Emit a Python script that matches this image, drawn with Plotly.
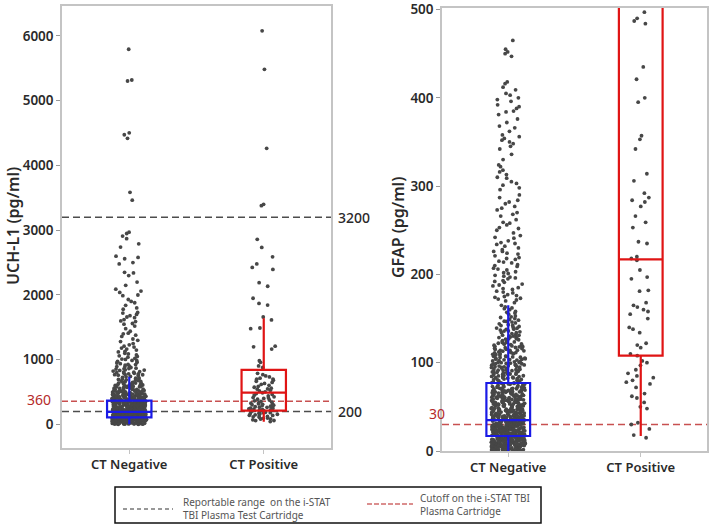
import plotly.graph_objects as go

categories = ["CT Negative", "CT Positive"]

# ---------------- UCH-L1 (pg/ml) ----------------
uchl1_neg_low = [
    12, 35, 58, 21, 77, 140, 96, 188, 250, 63, 171, 302, 44, 118, 215, 9, 88, 160, 276, 340,
    27, 103, 199, 264, 355, 71, 146, 233, 318, 52, 127, 181, 290, 16, 84, 207, 331, 39, 152, 244,
    68, 112, 226, 297, 361, 5, 93, 175, 258, 324, 47, 134, 193, 281, 31, 107, 166, 239, 349, 80,
    14, 121, 210, 270, 336, 56, 149, 221, 309, 25, 99, 184, 255, 367, 61, 137, 203, 287, 42, 114,
    74, 158, 229, 312, 19, 90, 196, 266, 345, 37, 128, 178, 248, 328, 66, 143, 218, 293, 8, 101,
    50, 163, 236, 306, 358, 83, 125, 191, 273, 30, 110, 155, 241, 315, 60, 132, 212, 284, 352, 23,
    95, 169, 223, 299, 45, 116, 186, 261, 334, 72, 139, 205, 279, 11, 87, 151, 231, 321, 54, 122,
    33, 176, 246, 310, 365, 79, 130, 198, 268, 18, 105, 162, 227, 295, 64, 144, 209, 343, 40, 119,
    85, 153, 217, 285, 338, 28, 97, 180, 252, 326, 57, 136, 194, 263, 6, 76, 167, 238, 304, 48,
    109, 173, 243, 316, 69, 126, 201, 277, 356, 24, 92, 147, 220, 289, 36, 115, 189, 259, 333, 81,
    3, 17, 29, 43, 59, 73, 86, 98, 113, 129, 141, 157, 172, 187, 202, 219, 234, 251, 269, 286,
    301, 318, 337, 354, 10, 22, 38, 53, 67, 82, 94, 108, 123, 138, 154, 168, 183, 197, 213, 228,
    242, 257, 272, 288, 303, 322, 341, 359, 7, 20, 32, 46, 62, 75, 89, 102, 117, 131, 145, 159,
    174, 190, 206, 222, 237, 253, 267, 283, 298, 314, 330, 347, 363, 15, 26, 41, 55, 70, 84, 100,
    111, 124, 135, 150, 164, 177, 192, 208, 224, 240, 256, 271, 292, 308, 325, 344, 2, 34, 65, 91,
    120, 148, 179, 211, 247, 280, 313, 350, 13, 51, 78, 106, 133, 161, 195, 230, 262, 296, 329, 362,
    372, 455, 398, 520, 381, 610, 430, 476, 389, 540, 412, 690, 445, 377, 505, 395, 580, 425, 468, 384,
    640, 403, 492, 375, 555, 438, 418, 720, 386, 462, 512, 392, 600, 449, 408, 530, 380, 482, 660, 421,
    399, 572, 458, 374, 498, 435, 620, 410, 545, 390, 470, 705, 428, 515, 383, 590, 452, 406, 488, 378,
    535, 415, 650, 440, 396, 562, 474, 387, 508, 676, 432, 401, 548, 464, 742, 419, 585, 394, 525, 446,
    630, 480, 413, 568, 405, 500, 736, 443, 592, 385, 460, 615, 427, 552, 391,
    373, 388, 402, 417, 433, 451, 467, 485, 503, 522, 543, 565, 588, 612, 638, 666, 695, 726, 379, 397,
    411, 426, 441, 457, 473, 490, 510, 532, 557, 583, 608, 635, 664, 699, 382, 393, 407, 423, 437, 454,
    471, 494, 518, 547, 575, 604, 645, 682, 714, 376, 400, 429, 466, 511,
]
uchl1_neg_mid = [
    762, 845, 1010, 790, 930, 1180, 808, 880, 1060, 775, 960, 1250, 825, 905, 1120, 770, 990, 1320, 856, 1040,
    795, 870, 1150, 940, 782, 1090, 815, 1400, 895, 1020, 758, 975, 1210, 835, 1075, 918, 1480, 800, 1130, 865,
    950, 1280, 780, 1005, 890, 1360, 840, 1050, 768, 1165, 925, 1440, 810, 985, 1230, 860, 1100, 1520, 1560, 1600,
    1620, 1650, 1680, 1700, 1720, 1730, 1780, 1800, 1840, 1880, 1900, 1930, 1990, 1550, 1410, 1300, 1195, 1380, 1660, 1590,
]
uchl1_neg_high = [
    2000, 2040, 2060, 2090, 2150, 2200, 2300, 2340, 2350, 2480, 2500, 2560, 2580, 2600,
    2740, 2790, 2870, 2910, 2950, 2970, 3465, 3585, 4420, 4475, 4505, 5305, 5320, 5795,
]
uchl1_pos_low = [
    45, 60, 72, 85, 95, 110, 118, 130, 142, 150, 158, 165, 172, 180, 188, 195, 62, 88, 125, 168,
    205, 215, 222, 230, 238, 245, 252, 260, 268, 275, 282, 290, 298, 305, 312, 320, 330, 338, 345, 355,
    365, 378, 390, 402, 415, 428, 440, 452, 465, 478, 490, 505, 518, 530, 545, 560, 575, 590, 605, 620,
    635, 650, 668, 685, 700, 715, 735, 750, 770, 790, 225, 265, 310, 410, 550, 702, 182, 140, 100, 240,
    880, 905, 960, 985,
]
uchl1_pos_high = [
    1165, 1200, 1210, 1480, 1490, 1615, 1660, 1845, 1870, 1950, 2135, 2190, 2395, 2425, 2480,
    2590, 2735, 2860, 3380, 3400, 4265, 5485, 6080,
]
uchl1_q1 = [111, 213]
uchl1_median = [196, 491]
uchl1_q3 = [368, 842]
uchl1_lowerfence = [5, 43]
uchl1_upperfence = [736, 1640]
uchl1_reportable = [200, 3200]
uchl1_cutoff = 360
uchl1_ticks = [0, 1000, 2000, 3000, 4000, 5000, 6000]

# ---------------- GFAP (pg/ml) ----------------
gfap_neg_low = [
    2, 14, 27, 41, 55, 68, 8, 20, 33, 47, 61, 75, 4, 17, 30, 44, 58, 71, 11, 24,
    37, 50, 64, 78, 6, 19, 32, 45, 59, 72, 1, 13, 26, 39, 53, 66, 9, 22, 35, 49,
    62, 76, 3, 16, 29, 42, 56, 69, 10, 23, 36, 48, 63, 77, 5, 18, 31, 46, 60, 73,
    12, 25, 38, 52, 65, 79, 7, 21, 34, 43, 57, 70, 0.5, 15, 28, 40, 54, 67, 9.5, 22.5,
    36.5, 51, 63.5, 74, 2.5, 16.5, 30.5, 44.5, 57.5, 72.5, 6.5, 19.5, 33.5, 47.5, 61.5, 68.5, 11.5, 25.5, 39.5, 53.5,
    1.5, 13.5, 24.5, 35.5, 50.5, 65.5, 78.5, 4.5, 18.5, 28.5, 42.5, 58.5, 70.5, 8.5, 20.5, 31.5, 45.5, 60.5, 75.5, 3.5,
    14.5, 26.5, 38.5, 54.5, 66.5, 10.5, 23.5, 34.5, 48.5, 62.5, 76.5, 5.5, 17.5, 29.5, 41.5, 56.5, 71.5, 7.5, 21.5, 32.5,
    0.8, 12.8, 25.8, 37.8, 52.8, 67.8, 3.2, 15.2, 27.2, 40.2, 55.2, 73.2, 6.8, 18.2, 30.2, 43.8, 59.2, 9.2, 20.8, 34.2,
    46.2, 63.2, 2.2, 11.2, 22.2, 33.2, 49.2, 69.2, 5.2, 16.2, 28.2, 39.2, 57.2, 74.2, 8.2, 19.2, 31.2, 44.2, 64.8, 1.2,
    13.2, 24.2, 36.2, 51.2, 66.2, 4.2, 15.8, 26.2, 38.2, 53.2, 77.2, 7.2, 17.8, 29.2, 41.2, 58.2, 10.2, 21.2, 32.8, 47.2,
    0.3, 9.8, 18.8, 27.8, 36.8, 45.8, 54.8, 63.8, 72.8, 3.8, 12.3, 21.8, 30.8, 39.8, 50.2, 61.2, 70.2, 6.2, 14.8, 23.8,
    2.8, 11.8, 20.3, 29.8, 38.8, 48.8, 59.8, 1.8, 8.8, 16.8, 25.2, 34.8, 44.8, 56.2, 67.2, 5.8, 13.8, 22.8, 31.8, 42.2,
    0.2, 7.8, 15.5, 24.8, 33.8, 43.2, 53.8, 65.2, 4.8, 12.2, 19.8, 28.8, 37.2, 47.8, 60.2, 2.6, 10.6, 18.6, 26.6, 35.6,
    1.1, 6.1, 9.1, 14.1, 17.1, 22.1, 26.1, 31.1, 35.1, 40.1, 46.1, 52.1, 57.1, 62.1, 69.1, 3.1, 11.1, 19.1, 28.1, 38.1,
    40.4, 0.4, 52.4, 12.4, 66.4, 24.4, 8.4, 33.4, 71.4, 18.4, 45.4, 2.4, 58.4, 27.4, 79.4, 14.4, 37.4, 5.4, 62.4, 21.4,
    48.4, 10.4, 31.4, 74.4, 16.4, 55.4, 3.4, 42.4, 25.4, 68.4, 7.4, 35.4, 60.4, 19.4, 1.4, 50.4, 29.4, 77.4, 13.4, 39.4,
    0.7, 11.7, 23.7, 46.7, 64.7, 6.7, 17.7, 34.7, 56.7, 73.7, 2.7, 14.7, 28.7, 41.7, 69.7, 9.7, 20.7, 37.7, 52.7, 4.7,
    15.7, 26.7, 44.7, 61.7, 1.7, 12.7, 31.7, 49.7, 75.7, 8.7, 22.7, 38.7, 58.7, 5.7, 18.7, 30.7, 54.7, 66.7, 3.7, 24.7,
    0.9, 7.9, 16.9, 27.9, 35.9, 47.9, 63.9, 10.9, 21.9, 32.9, 43.9, 57.9, 70.9, 4.9, 13.9, 25.9, 40.9, 52.9, 2.9, 19.9,
    29.9, 45.9, 66.9, 6.9, 15.9, 23.9, 37.9, 55.9, 1.9, 11.9, 20.9, 33.9, 50.9, 76.9, 9.9, 17.9, 30.9, 42.9, 61.9, 5.9,
    0.1, 3.3, 8.3, 13.3, 18.3, 23.3, 28.3, 33.3, 38.3, 45.3, 53.3, 62.3, 72.3, 1.3, 6.3, 11.3, 16.3, 21.3, 26.3, 31.3,
    36.3, 41.3, 49.3, 58.3, 68.3, 4.3, 9.3, 14.3, 19.3, 24.3, 29.3, 34.3, 40.3, 47.3, 56.3, 65.3, 2.3, 7.3, 12.9, 17.3,
    22.7, 27.3, 32.3, 37.3, 43.3, 51.3, 60.3, 70.3, 0.6, 5.6, 10.1, 15.1, 20.1, 25.1, 30.1, 35.3, 41.1, 48.1, 55.1, 63.1,
    3.6, 8.6, 13.6, 18.1, 23.1, 28.6, 33.6, 39.1, 44.1, 51.6, 59.6, 67.6, 1.6, 6.6, 11.6, 16.6, 21.6, 27.1, 32.1, 36.1,
]
gfap_neg_mid = [
    81, 86, 92, 98, 104, 111, 118, 126, 135, 145, 83, 89, 95, 101, 108, 115, 122, 131, 140, 152,
    82, 87, 93, 99, 106, 113, 120, 128, 138, 149, 84, 90, 96, 103, 110, 117, 124, 133, 143, 158,
    80.5, 85, 91, 97, 102, 109, 116, 123, 130, 141, 155, 88, 94, 100, 107, 114, 121, 129, 137, 147,
    81.5, 85.5, 90.5, 94.5, 99.5, 105, 112, 119, 127, 136, 146, 162, 83.5, 87.5, 92.5, 96.5, 103.5, 109.5, 125, 132,
    84.5, 88.5, 93.5, 97.5, 101.5, 106.5, 113.5, 118.5, 134, 142, 150, 165, 86.5, 91.5, 100.5, 111.5, 120.5, 139, 157, 168,
    82.5, 89.5, 95.5, 104.5, 116.5, 128.5, 144, 160, 87.2, 98.5, 107.5, 123.5, 153, 170,
    80.2, 84.2, 88.2, 92.2, 96.2, 100.2, 105.2, 110.2, 115.2, 121.2, 127.2, 134.2, 142.2, 151.2, 82.8, 86.8, 90.8, 94.8, 98.8, 103.8,
    108.8, 113.8, 119.8, 126.8, 135.8, 146.8, 161.2, 81.2, 85.2, 89.2, 93.2, 97.2, 102.2, 107.2, 112.2, 118.2, 124.2, 131.2, 139.2, 148.2,
    83.2, 91.2, 99.2, 106.2, 114.2, 122.8, 130.2, 156.2, 87.8, 95.2, 103.2, 111.2, 117.2, 129.2, 137.8, 163.2,
]
gfap_neg_high = [
    465, 455, 452, 450, 447, 418, 416, 412, 409, 405, 403, 400, 398, 396, 392, 390, 388, 385, 381, 376,
    372, 366, 362, 358, 356, 354, 352, 350, 348, 345, 336, 330, 324, 318, 316, 313, 310, 305, 303, 298,
    296, 290, 284, 282, 280, 275, 273, 270, 266, 262, 259, 256, 253, 250, 247, 244, 241, 238, 235, 232,
    230, 228, 226, 223, 221, 219, 217, 215, 213, 211, 209, 207, 205, 203, 201, 199, 197, 195, 193, 191,
    189, 187, 185, 183, 181, 179, 177, 175, 173, 171, 234, 226, 214, 206, 198, 188, 180, 174, 218, 202,
    242, 258, 268, 277, 287, 301, 309, 322, 342, 368, 384, 172, 176, 184, 192, 196, 210, 224, 236, 252,
]
gfap_pos = [
    497, 490, 487, 484, 435, 421, 400, 395, 357, 353, 342, 314, 306, 292, 287, 284, 282, 277, 266, 259,
    253, 237, 235, 220, 218, 216, 205, 197, 195, 182, 181, 168, 165, 163, 160, 158, 155, 150, 140, 138,
    134, 122, 120, 117, 110, 108, 102, 100, 97, 92, 88, 85, 83, 80, 78, 76, 72, 65, 62, 60,
    55, 50, 48, 32, 30, 25, 18, 15,
]
gfap_q1 = [17, 108]
gfap_median = [35, 217]
gfap_q3 = [77, 1200]
gfap_lowerfence = [0, 17]
gfap_upperfence = [165, 2600]
gfap_cutoff = 30
gfap_ticks = [0, 100, 200, 300, 400, 500]

# ---------------- styling ----------------
W, H = 709, 532
BOXW = 0.33
PT_COLOR = "#474747"
BLUE = "#1a1ae6"
RED = "#e01414"
FRAME = "#c4c4c4"
FONT = "Noto Sans"
TXT = "#2a2a2a"


def px(x):
    return x / W


def py(y):
    return 1 - y / H


def points(vals, cat, xa, ya, jitter, size=3.8):
    return go.Box(
        y=vals, x=[cat] * len(vals), boxpoints="all", jitter=jitter, pointpos=0,
        width=BOXW, fillcolor="rgba(0,0,0,0)", line=dict(width=0, color="rgba(0,0,0,0)"),
        marker=dict(size=size, color=PT_COLOR, line=dict(width=0)),
        xaxis=xa, yaxis=ya, hoverinfo="skip", showlegend=False,
    )


def box(i, q1, med, q3, lo, hi, color, xa, ya):
    return go.Box(
        x=[categories[i]], q1=[q1[i]], median=[med[i]], q3=[q3[i]],
        lowerfence=[lo[i]], upperfence=[hi[i]], boxpoints=False, width=BOXW,
        whiskerwidth=0, fillcolor="rgba(0,0,0,0)", line=dict(color=color, width=2.2),
        xaxis=xa, yaxis=ya, hoverinfo="skip", showlegend=False,
    )


fig = go.Figure()
# UCH-L1 points
fig.add_trace(points(uchl1_neg_low, categories[0], "x", "y", 0.78))
fig.add_trace(points(uchl1_neg_mid, categories[0], "x", "y", 0.78))
fig.add_trace(points(uchl1_neg_high, categories[0], "x", "y", 0.75))
fig.add_trace(points(uchl1_pos_low, categories[1], "x", "y", 0.72))
fig.add_trace(points(uchl1_pos_high, categories[1], "x", "y", 0.72))
# GFAP points
fig.add_trace(points(gfap_neg_low, categories[0], "x2", "y2", 0.78))
fig.add_trace(points(gfap_neg_mid, categories[0], "x2", "y2", 0.78))
fig.add_trace(points(gfap_neg_high, categories[0], "x2", "y2", 0.72))
fig.add_trace(points(gfap_pos, categories[1], "x2", "y2", 0.7))
# boxes
fig.add_trace(box(0, uchl1_q1, uchl1_median, uchl1_q3, uchl1_lowerfence, uchl1_upperfence, BLUE, "x", "y"))
fig.add_trace(box(1, uchl1_q1, uchl1_median, uchl1_q3, uchl1_lowerfence, uchl1_upperfence, RED, "x", "y"))
fig.add_trace(box(0, gfap_q1, gfap_median, gfap_q3, gfap_lowerfence, gfap_upperfence, BLUE, "x2", "y2"))
fig.add_trace(box(1, gfap_q1, gfap_median, gfap_q3, gfap_lowerfence, gfap_upperfence, RED, "x2", "y2"))

tickfont = dict(family=FONT, size=13.5, color=TXT, weight=600)
xcommon = dict(
    type="category", categoryorder="array", categoryarray=categories, range=[-0.5, 1.5],
    showline=True, mirror=True, linecolor=FRAME, linewidth=1.5, ticks="outside",
    ticklen=4, tickcolor=FRAME, tickfont=dict(family=FONT, size=13, color=TXT, weight=600),
    showgrid=False, zeroline=False, automargin=False, fixedrange=True,
)
ycommon = dict(
    showline=True, mirror=True, linecolor=FRAME, linewidth=1.5, ticks="outside",
    ticklen=4, tickcolor="#999999", tickfont=tickfont, showgrid=False, zeroline=False,
    automargin=False, fixedrange=True, ticklabeloverflow="allow",
)

fig.update_layout(
    width=W, height=H, template="none", boxmode="overlay",
    margin=dict(l=0, r=0, t=0, b=0), paper_bgcolor="white", plot_bgcolor="white",
    showlegend=False, hovermode=False,
    xaxis=dict(domain=[px(62), px(331)], anchor="y", **xcommon),
    yaxis=dict(domain=[py(448), py(6)], anchor="x", range=[-363, 6463],
               tickvals=uchl1_ticks, **ycommon),
    xaxis2=dict(domain=[px(442), px(707)], anchor="y2", **xcommon),
    yaxis2=dict(domain=[py(451), py(8)], anchor="x2", range=[0, 501.7],
                tickvals=gfap_ticks, **ycommon),
)

# reference lines
GRAY_DASH = "#4d4d4d"
RED_DASH = "#c85050"
for v in uchl1_reportable:
    fig.add_shape(type="line", xref="x domain", yref="y", x0=0, x1=1, y0=v, y1=v,
                  line=dict(color=GRAY_DASH, width=1.6, dash="7px,4px"), layer="below")
fig.add_shape(type="line", xref="x domain", yref="y", x0=0, x1=1, y0=uchl1_cutoff, y1=uchl1_cutoff,
              line=dict(color=RED_DASH, width=1.4, dash="6px,3px"), layer="below")
fig.add_shape(type="line", xref="x2 domain", yref="y2", x0=0, x1=1, y0=gfap_cutoff, y1=gfap_cutoff,
              line=dict(color=RED_DASH, width=1.6, dash="7px,4px"), layer="below")

# axis titles
fig.add_annotation(text="UCH-L1 (pg/ml)", xref="paper", yref="paper", x=px(13), y=py(226),
                   xanchor="center", yanchor="middle", textangle=-90, showarrow=False,
                   font=dict(family=FONT, size=16, color=TXT, weight=600))
fig.add_annotation(text="GFAP (pg/ml)", xref="paper", yref="paper", x=px(398), y=py(228),
                   xanchor="center", yanchor="middle", textangle=-90, showarrow=False,
                   font=dict(family=FONT, size=16, color=TXT, weight=600))

# line labels
for v in uchl1_reportable:
    fig.add_annotation(text=str(v), xref="paper", yref="y", x=px(336), y=v, xanchor="left",
                       showarrow=False, font=dict(family=FONT, size=14, color=TXT, weight=500))
fig.add_annotation(text=str(uchl1_cutoff), xref="paper", yref="y", x=px(53), y=uchl1_cutoff + 20,
                   xanchor="right", showarrow=False, font=dict(family=FONT, size=14, color="#b52a2a"))
fig.add_annotation(text=str(gfap_cutoff), xref="paper", yref="y2", x=px(437), y=gfap_cutoff + 13,
                   xanchor="center", showarrow=False, font=dict(family=FONT, size=14, color="#b52a2a"))

# legend box
fig.add_shape(type="rect", xref="paper", yref="paper", x0=px(115), x1=px(541), y0=py(523), y1=py(487),
              line=dict(color="#111111", width=1.5), fillcolor="white")
fig.add_shape(type="line", xref="paper", yref="paper", x0=px(123), x1=px(173), y0=py(509), y1=py(509),
              line=dict(color="#333333", width=1.2, dash="4px,3px"))
fig.add_shape(type="line", xref="paper", yref="paper", x0=px(367), x1=px(413), y0=py(504), y1=py(504),
              line=dict(color="#d06a6a", width=1.6, dash="5px,2px"))
legfont = dict(family="Noto Sans", size=10, color="#555555")
fig.add_annotation(text="Reportable range  on the i-STAT<br>TBI Plasma Test Cartridge", xref="paper",
                   yref="paper", x=px(181), y=py(508), xanchor="left", yanchor="middle", align="left",
                   showarrow=False, font=legfont)
fig.add_annotation(text="Cutoff on the i-STAT TBI<br>Plasma Cartridge", xref="paper",
                   yref="paper", x=px(418), y=py(504), xanchor="left", yanchor="middle", align="left",
                   showarrow=False, font=legfont)

# the page's default 8px body margin would shift the 709x532 figure; remove it
fig.write_html(
    "out.html",
    config={"displayModeBar": False},
    post_script="document.body.style.margin='0';document.body.style.overflow='hidden';",
)
